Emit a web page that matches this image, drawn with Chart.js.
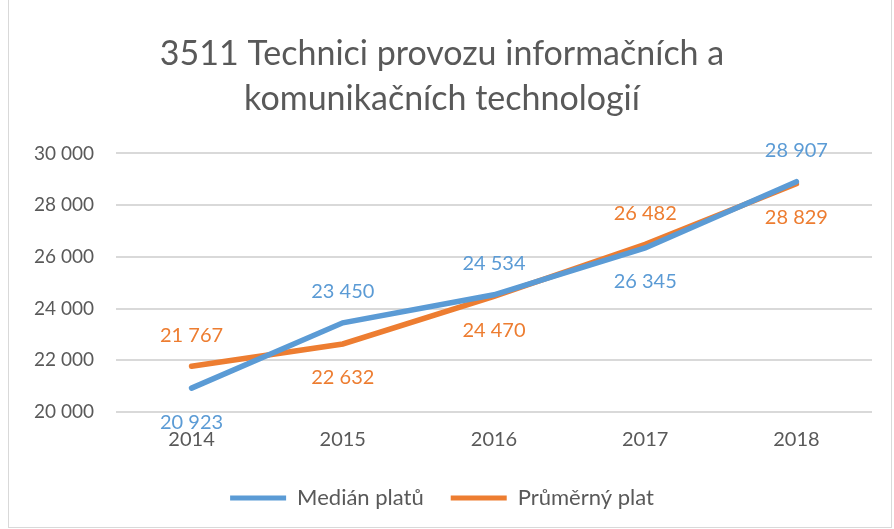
<!DOCTYPE html>
<html>
<head>
<meta charset="utf-8">
<script src="https://cdn.jsdelivr.net/npm/chart.js@4/dist/chart.umd.min.js"></script>
<style>
  html, body { margin: 0; padding: 0; background: #fff; }
  #wrap { position: absolute; left: 8px; top: -2px; width: 884px; height: 530px; border: 1px solid #d9d9d9; box-sizing: border-box; }
  canvas { display: block; }
</style>
</head>
<body>
<div id="wrap"><canvas id="chart" width="882" height="528"></canvas></div>
<script>
const years = ['2014', '2015', '2016', '2017', '2018'];
const median = [20923, 23450, 24534, 26345, 28907];
const average = [21767, 22632, 24470, 26482, 28829];
// label above (1) or below (-1) the point
const medianSide = [-1, 1, 1, -1, 1];
const averageSide = [1, -1, -1, 1, -1];

const fontFamily = 'Lato, "Open Sans", sans-serif';
const fmt = v => String(v).replace(/\B(?=(\d{3})+(?!\d))/g, ' ');

const pointLabels = {
  id: 'pointLabels',
  afterDatasetsDraw(chart) {
    const ctx = chart.ctx;
    const sides = [medianSide, averageSide];
    ctx.save();
    ctx.font = '20px ' + fontFamily;
    ctx.textAlign = 'center';
    ctx.textBaseline = 'middle';
    chart.data.datasets.forEach((ds, i) => {
      const meta = chart.getDatasetMeta(i);
      ctx.fillStyle = ds.borderColor;
      meta.data.forEach((pt, j) => {
        const dy = sides[i][j] > 0 ? -31 : 34;
        ctx.fillText(fmt(ds.data[j]), pt.x, pt.y + dy);
      });
    });
    ctx.restore();
  }
};

new Chart(document.getElementById('chart'), {
  type: 'line',
  data: {
    labels: years,
    datasets: [
      { label: 'Medián platů', data: median, borderColor: '#5b9bd5', backgroundColor: '#5b9bd5', borderWidth: 5.5, pointRadius: 0, tension: 0, borderCapStyle: 'round' },
      { label: 'Průměrný plat', data: average, borderColor: '#ed7d31', backgroundColor: '#ed7d31', borderWidth: 5.5, pointRadius: 0, tension: 0, borderCapStyle: 'round' }
    ]
  },
  options: {
    responsive: false,
    animation: false,
    layout: { padding: { left: 3, right: 19, top: 4, bottom: 8 } },
    plugins: {
      title: {
        display: true,
        text: ['3511 Technici provozu informačních a', 'komunikačních technologií'],
        color: '#595959',
        font: { family: fontFamily, size: 34, weight: 'normal', lineHeight: 1.33 },
        padding: { top: 28, bottom: 32 }
      },
      legend: {
        position: 'bottom',
        labels: {
          color: '#595959',
          font: { family: fontFamily, size: 22 },
          boxWidth: 56,
          boxHeight: 5,
          padding: 27,
          generateLabels(chart) {
            return chart.data.datasets.map((ds, i) => ({
              text: ds.label, fillStyle: ds.borderColor, strokeStyle: ds.borderColor,
              lineWidth: 0, datasetIndex: i, fontColor: '#595959'
            }));
          }
        }
      },
      tooltip: { enabled: false }
    },
    scales: {
      x: {
        offset: true,
        grid: { display: false },
        border: { display: false },
        ticks: { color: '#595959', font: { family: fontFamily, size: 20 }, padding: 8 }
      },
      y: {
        min: 20000,
        max: 30000,
        ticks: { stepSize: 2000, color: '#595959', font: { family: fontFamily, size: 19 }, padding: 22, callback: v => fmt(v) },
        grid: { color: '#d9d9d9', lineWidth: 2, drawTicks: false },
        border: { display: false }
      }
    }
  },
  plugins: [pointLabels]
});
</script>
</body>
</html>
